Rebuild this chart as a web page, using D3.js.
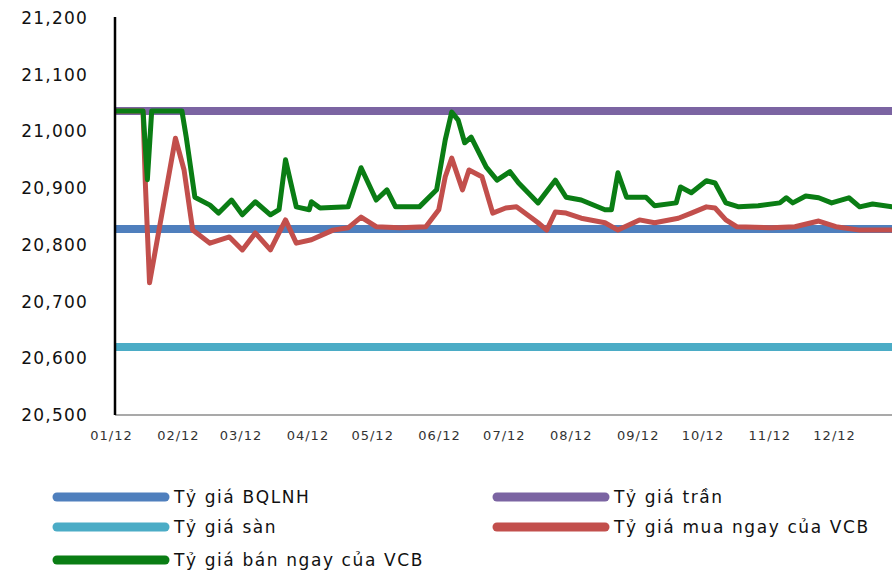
<!DOCTYPE html>
<html>
<head>
<meta charset="utf-8">
<script src="https://cdn.jsdelivr.net/npm/d3@7"></script>
<style>
  body { margin: 0; background: #fff; }
  svg { display: block; }
  svg text { font-family: "DejaVu Sans", sans-serif; }
</style>
</head>
<body>
<svg id="chart" width="892" height="577"></svg>
<script>
// fixed rates (VND/USD)
const rateCentral = 20828;
const rateCeiling = 21036;
const rateFloor = 20620;

// VCB sell rate
const sellDates = ["2012-01-01","2012-01-14","2012-01-16","2012-01-18","2012-02-01","2012-02-03","2012-02-07",
  "2012-02-14","2012-02-18","2012-02-24","2012-02-29","2012-03-06","2012-03-13","2012-03-17","2012-03-20",
  "2012-03-25","2012-03-31","2012-04-01","2012-04-05","2012-04-18","2012-04-24","2012-05-01","2012-05-06",
  "2012-05-10","2012-05-21","2012-05-29","2012-06-02","2012-06-05","2012-06-08","2012-06-11","2012-06-14",
  "2012-06-21","2012-06-26","2012-07-02","2012-07-06","2012-07-15","2012-07-23","2012-07-28","2012-08-04",
  "2012-08-15","2012-08-18","2012-08-21","2012-08-25","2012-09-03","2012-09-07","2012-09-17","2012-09-19",
  "2012-09-24","2012-10-01","2012-10-05","2012-10-10","2012-10-16","2012-10-25","2012-11-04","2012-11-07",
  "2012-11-10","2012-11-16","2012-11-22","2012-11-28","2012-12-06","2012-12-11","2012-12-17","2012-12-26",
  "2012-12-31"];
const sellValues = [21036,21036,20915,21036,21036,20990,20884,
  20870,20856,20879,20853,20876,20853,20862,20950,
  20867,20862,20876,20865,20867,20936,20879,20897,
  20867,20867,20897,20985,21034,21020,20980,20990,
  20937,20914,20929,20909,20874,20914,20884,20879,
  20862,20862,20927,20884,20884,20869,20874,20902,
  20892,20913,20909,20874,20867,20869,20874,20883,
  20874,20886,20883,20874,20883,20867,20872,20867,
  20867];

// VCB buy rate
const buyDates = ["2012-01-01","2012-01-14","2012-01-15","2012-01-17","2012-01-29","2012-02-02","2012-02-06",
  "2012-02-14","2012-02-23","2012-02-29","2012-03-06","2012-03-13","2012-03-20","2012-03-25","2012-04-01",
  "2012-04-11","2012-04-18","2012-04-24","2012-05-01","2012-05-12","2012-05-24","2012-05-30","2012-06-02",
  "2012-06-05","2012-06-10","2012-06-13","2012-06-19","2012-06-24","2012-06-30","2012-07-05","2012-07-15",
  "2012-07-19","2012-07-23","2012-07-28","2012-08-04","2012-08-15","2012-08-21","2012-08-31","2012-09-07",
  "2012-09-18","2012-09-24","2012-10-01","2012-10-05","2012-10-10","2012-10-15","2012-10-31","2012-11-11",
  "2012-11-22","2012-11-30","2012-12-11","2012-12-26","2012-12-31"];
const buyValues = [21036,21036,20914,20733,20988,20932,20826,
  20803,20814,20791,20821,20791,20844,20803,20809,
  20826,20830,20849,20832,20830,20832,20862,20920,
  20953,20897,20932,20920,20856,20865,20867,20839,
  20826,20858,20856,20847,20839,20826,20844,20839,
  20847,20856,20867,20865,20844,20832,20830,20832,
  20842,20832,20826,20826,20826];

const yTicks = [20500, 20600, 20700, 20800, 20900, 21000, 21100, 21200];

const legendLabels = ["Tỷ giá BQLNH", "Tỷ giá trần", "Tỷ giá sàn",
  "Tỷ giá mua ngay của VCB", "Tỷ giá bán ngay của VCB"];
const colors = ["#4f7fbd", "#7b64a2", "#4bacc6", "#c24f4c", "#0a7d14"];

const svg = d3.select("#chart");
const parse = d3.timeParse("%Y-%m-%d");

const x = d3.scaleTime()
  .domain([parse("2012-01-01"), parse("2013-01-01")])
  .range([115, 905]);
const y = d3.scaleLinear().domain([20500, 21200]).range([415, 18]);

const plot = svg.append("g");

// y axis: labels only, black line
const yAxis = svg.append("g")
  .attr("transform", "translate(115,0)")
  .call(d3.axisLeft(y).tickValues(yTicks).tickSize(0).tickPadding(27)
    .tickFormat(d3.format(",")));
yAxis.attr("font-family", null);
yAxis.select(".domain").remove();
yAxis.selectAll("text")
  .style("font-size", "17px")
  .style("letter-spacing", "1.2px")
  .attr("fill", "#111");

const xAxis = svg.append("g")
  .attr("transform", "translate(0,415)")
  .call(d3.axisBottom(x).ticks(d3.timeMonth.every(1)).tickSize(0).tickPadding(16)
    .tickFormat(d3.timeFormat("%m/%y")));
xAxis.attr("font-family", null);
xAxis.select(".domain").remove();
xAxis.selectAll(".tick").filter((d) => d.getFullYear() > 2012).remove();
xAxis.selectAll("text")
  .attr("dx", -4)
  .style("font-size", "13px")
  .style("letter-spacing", "1px")
  .attr("fill", "#333");

// horizontal rate lines, in series order
const flat = [rateCentral, rateCeiling, rateFloor];
plot.selectAll("line.flat")
  .data(flat)
  .join("line")
  .attr("class", "flat")
  .attr("x1", 115)
  .attr("x2", x(parse("2013-01-01")))
  .attr("y1", (d) => y(d))
  .attr("y2", (d) => y(d))
  .attr("stroke", (d, i) => colors[i])
  .attr("stroke-width", 8);

const line = d3.line()
  .x((d) => x(d[0]))
  .y((d) => y(d[1]));

const buy = buyDates.map((d, i) => [parse(d), buyValues[i]]);
const sell = sellDates.map((d, i) => [parse(d), sellValues[i]]);

plot.append("path")
  .datum(buy)
  .attr("d", line)
  .attr("fill", "none")
  .attr("stroke", colors[3])
  .attr("stroke-width", 5)
  .attr("stroke-linejoin", "round");

plot.append("path")
  .datum(sell)
  .attr("d", line)
  .attr("fill", "none")
  .attr("stroke", colors[4])
  .attr("stroke-width", 5)
  .attr("stroke-linejoin", "round");

// axis lines on top
svg.append("line")
  .attr("x1", 115).attr("x2", 892)
  .attr("y1", 415).attr("y2", 415)
  .attr("stroke", "#8c8c8c").attr("stroke-width", 1.5);
svg.append("line")
  .attr("x1", 115).attr("x2", 115)
  .attr("y1", 17).attr("y2", 415)
  .attr("stroke", "#000").attr("stroke-width", 2.5);

// legend: two columns
const legendPos = [[57, 497], [497, 497], [57, 527], [497, 527], [57, 560]];
const legend = svg.append("g")
  .selectAll("g")
  .data(legendLabels)
  .join("g")
  .attr("transform", (d, i) => `translate(${legendPos[i][0]},${legendPos[i][1]})`);

legend.append("line")
  .attr("x1", 0).attr("x2", 108)
  .attr("stroke", (d, i) => colors[i])
  .attr("stroke-width", 9)
  .attr("stroke-linecap", "round");

legend.append("text")
  .attr("x", 117)
  .attr("dy", "0.35em")
  .style("font-size", "17px")
  .style("letter-spacing", "1.6px")
  .attr("fill", "#111")
  .text((d) => d);
</script>
</body>
</html>
